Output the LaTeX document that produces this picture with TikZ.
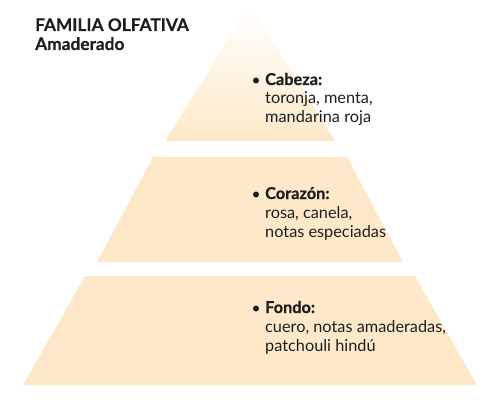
\documentclass[tikz,border=0pt]{standalone}
\usepackage{fontspec}
\setmainfont{Lato}
\definecolor{peach}{RGB}{253,233,201}
\definecolor{ink}{RGB}{30,30,30}
\tikzset{
  tier/.style={fill=peach, draw=none},
  head/.style={anchor=base west, inner sep=0pt, text=ink, font=\fontsize{16.3}{19}\selectfont\bfseries\addfontfeature{FakeBold=0.6}},
  notes/.style={anchor=base west, inner sep=0pt, text=ink, align=left, font=\fontsize{16.3}{19}\selectfont},
  dot/.style={circle, fill=ink, inner sep=0pt, minimum size=6pt},
  title/.style={anchor=base west, inner sep=0pt, text=ink, font=\fontsize{17.3}{19}\selectfont\bfseries\addfontfeature{FakeBold=0.4}}
}
\begin{document}
\begin{tikzpicture}[x=1pt,y=-1pt]
\useasboundingbox (0,0) rectangle (500,406);
% tiers
\shade[top color=white, middle color=peach!40, bottom color=peach, draw=none] (250,4) -- (335,141) -- (165,141) -- cycle;
\path[tier] (153,157) -- (347,157) -- (403,262) -- (97,262) -- cycle;
\path[tier] (85,276) -- (415,276) -- (477,385) -- (23,385) -- cycle;
% title
\node[title] (t1) at (35,31) {FAMILIA OLFATIVA};
\node[title] (t2) at (35,50) {Amaderado};
% Cabeza
\node[dot] (d1) at (256,80.5) {};
\node[head] (h1) at (265,85) {Cabeza:};
\node[notes] (n1a) at (265,104) {toronja, menta,};
\node[notes] (n1b) at (265,123) {mandarina roja};
% Corazon
\node[dot] (d2) at (256,194.5) {};
\node[head] (h2) at (265,199) {Corazón:};
\node[notes] (n2a) at (265,218) {rosa, canela,};
\node[notes] (n2b) at (265,237) {notas especiadas};
% Fondo
\node[dot] (d3) at (256,308.5) {};
\node[head] (h3) at (265,313) {Fondo:};
\node[notes] (n3a) at (265,332) {cuero, notas amaderadas,};
\node[notes] (n3b) at (265,351) {patchouli hindú};
\end{tikzpicture}
\end{document}
